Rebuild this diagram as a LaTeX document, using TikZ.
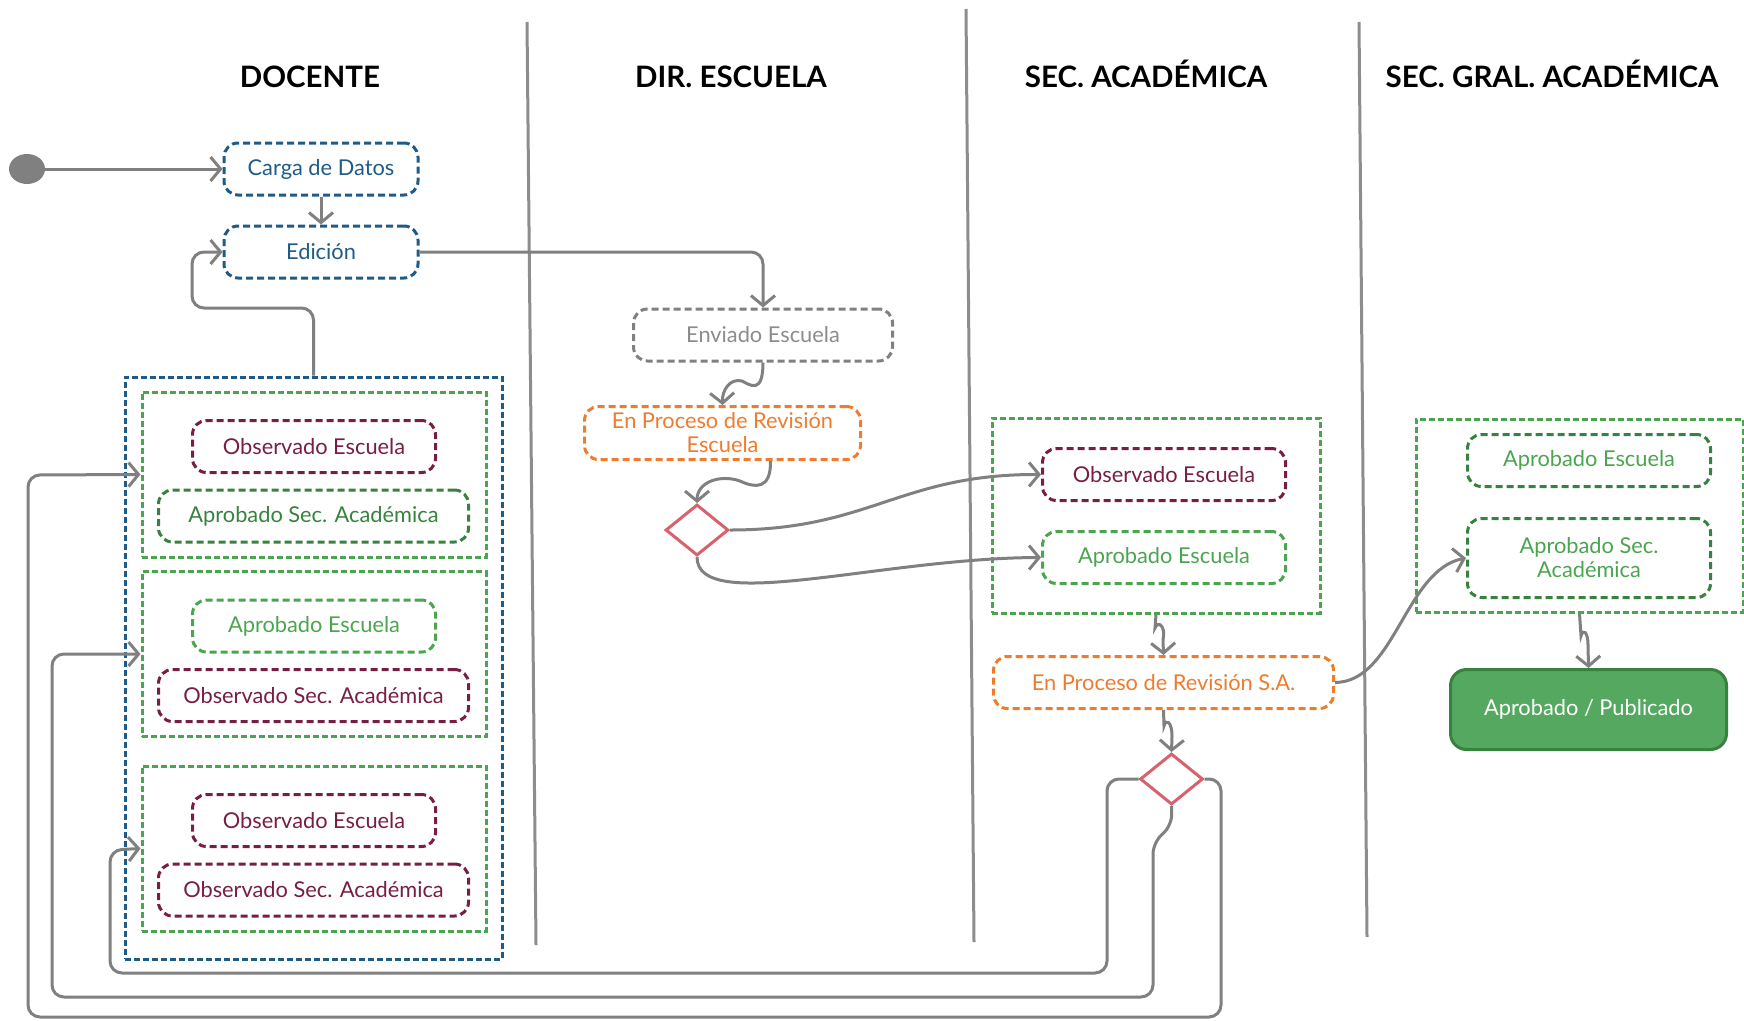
\documentclass[tikz,border=0pt]{standalone}
\usepackage{fontspec}
\setmainfont{Lato}
\usepackage{tikz}
\usetikzlibrary{arrows.meta, shapes.geometric, backgrounds, calc}
\definecolor{themeBlue}{RGB}{30, 92, 135}
\definecolor{themeGrey}{RGB}{128, 128, 128}
\definecolor{themeLightGrey}{RGB}{140, 140, 140}
\definecolor{themeOrange}{RGB}{238, 124, 46}
\definecolor{themeMaroon}{RGB}{120, 30, 70}
\definecolor{themeGreen}{RGB}{75, 165, 80}
\definecolor{themeDarkGreen}{RGB}{55, 130, 62}
\definecolor{themeRed}{RGB}{214, 98, 110}
\definecolor{themeFill}{RGB}{85, 168, 95}

\begin{document}
\begin{tikzpicture} [
        x=1pt, y=-1pt,
        font=\fontsize{21.8}{24}\selectfont,
        state/.style={draw, line width=3pt, dash pattern=on 7pt off 4pt, rounded corners=14pt, minimum height=52pt, align=center, inner sep=2pt},
        group/.style={draw=themeGreen, line width=3pt, dash pattern=on 6pt off 3pt},
        flow/.style={draw=themeGrey, line width=3pt, rounded corners=12pt, -{Straight Barb[length=10pt, width=24pt]}},
        squig/.style={flow, rounded corners=0pt},
        lane/.style={draw=themeGrey!90, line width=3pt},
        choice/.style={diamond, draw=themeRed, line width=3pt, fill=white, minimum width=63pt, minimum height=51pt, inner sep=0pt},
        head/.style={font=\fontsize{29.5}{33}\selectfont\bfseries, anchor=base}
    ]
        \useasboundingbox (0,0) rectangle (1744,1020);

        \foreach \x/\lbl in {310/DOCENTE, 731/DIR. ESCUELA, 1146/SEC. ACADÉMICA, 1552/SEC. GRAL. ACADÉMICA} {
            \node [head] (h\x) at (\x,87) {\lbl};
        }

        \node [fill=themeGrey, ellipse, minimum width=36pt, minimum height=30pt, inner sep=0pt] (start) at (27,169) {};
        \node [state, draw=themeBlue, text=themeBlue, minimum width=194pt] (carga) at (321,169) {Carga de Datos};
        \node [state, draw=themeBlue, text=themeBlue, minimum width=194pt] (edicion) at (321,252) {Edición};

        \node [draw=themeBlue, line width=3pt, dash pattern=on 6pt off 3pt, minimum width=377pt, minimum height=582pt] (docente) at (313.5,668) {};
        \foreach \n/\gy/\ta/\ca/\tb/\cb in {
                1/474.5/Observado Escuela/themeMaroon/Aprobado Sec. Académica/themeDarkGreen,
                2/654/Aprobado Escuela/themeGreen/Observado Sec. Académica/themeMaroon,
                3/848.5/Observado Escuela/themeMaroon/Observado Sec. Académica/themeMaroon} {
            \node [group, minimum width=344pt, minimum height=165pt] (g\n) at (314,\gy) {};
            \node [state, draw=\ca, text=\ca, minimum width=243pt] (top\n) at (314,\gy-28) {\ta};
            \node [state, draw=\cb, text=\cb, minimum width=310pt] (bot\n) at (313.5,\gy+41.5) {\tb};
        }

        \node [state, draw=themeGrey, text=themeLightGrey, minimum width=259pt] (enviado) at (763,335) {Enviado Escuela};
        \node [state, draw=themeOrange, text=themeOrange, minimum width=276pt, minimum height=53pt, inner sep=1pt] (revesc) at (722.5,433) {En Proceso de Revisión\\Escuela};
        \node [choice] (dec1) at (697,530) {};

        \node [group, minimum width=328pt, minimum height=195pt] (sagroup) at (1156,515.5) {};
        \node [state, draw=themeMaroon, text=themeMaroon, minimum width=243pt] (saobs) at (1164,474.5) {Observado Escuela};
        \node [state, draw=themeGreen, text=themeGreen, minimum width=243pt] (saapr) at (1164,557.5) {Aprobado Escuela};
        \node [state, draw=themeOrange, text=themeOrange, minimum width=340pt] (revsa) at (1163.5,682.5) {En Proceso de Revisión S.A.};
        \node [choice] (dec2) at (1171.5,779) {};

        \node [group, minimum width=327pt, minimum height=193pt] (sgagroup) at (1579.5,515.5) {};
        \node [state, draw=themeDarkGreen, text=themeGreen, minimum width=243pt] (sgaesc) at (1589,460.5) {Aprobado Escuela};
        \node [state, draw=themeDarkGreen, text=themeGreen, minimum width=243pt, minimum height=79pt] (sgasa) at (1589,558) {Aprobado Sec.\\Académica};
        \node [draw=themeDarkGreen, fill=themeFill, line width=3pt, rounded corners=16pt, minimum width=276pt, minimum height=80pt, text=white] (publicado) at (1588.5,709.5) {Aprobado / Publicado};

        \begin{scope}[on background layer]
            \foreach \xa/\ya/\xb/\yb in {527/22/536/945, 966/9/974/942, 1359/22/1367/937} {
                \draw[lane] (\xa,\ya) -- (\xb,\yb);
            }
        \end{scope}

        \draw[flow] (start) -- (carga);
        \draw[flow] (carga) -- (edicion);
        \draw[flow] (edicion.east) -| (enviado.north);
        \draw[flow] (docente.north) |- (192,308) |- (edicion.west);
        \draw[squig] (enviado.south) .. controls (763,395) and (750,385) .. (742,381) .. controls (730,378) and (722,390) .. (revesc.north);
        \draw[squig] ($(revesc.south)+(48,0)$) .. controls (771,490) and (755,488) .. (740,481) .. controls (720,474) and (697,482) .. (dec1.north);
        \draw[flow] (dec1.east) .. controls (870,530) and (900,474) .. (saobs.west);
        \draw[flow] (dec1.south) .. controls (697,615) and (880,558) .. (saapr.west);
        \draw[squig] (sagroup.south) -- (1155,628) .. controls (1158,620) and (1166,626) .. (1163,640) -- (revsa.north);
        \draw[squig] (revsa.south) -- (1164,726) .. controls (1166,718) and (1172,722) .. (1172,736) -- (dec2.north);
        \draw[flow] (revsa.east) .. controls (1395,682) and (1405,570) .. (sgasa.west);
        \draw[squig] (sgagroup.south) -- (1581,636) .. controls (1583,628) and (1588,632) .. (1588,645) -- (publicado.north);
        \draw[flow] (dec2.east) -| (1221,1017) -| (28,475) -- (g1.west);
        \draw[flow] (dec2.south) -- (1172,826) -- (1153,842) -- (1153,997) -| (52,654) -- (g2.west);
        \draw[flow] (dec2.west) -| (1107,973) -| (110,850) -- (g3.west);
\end{tikzpicture}
\end{document}
